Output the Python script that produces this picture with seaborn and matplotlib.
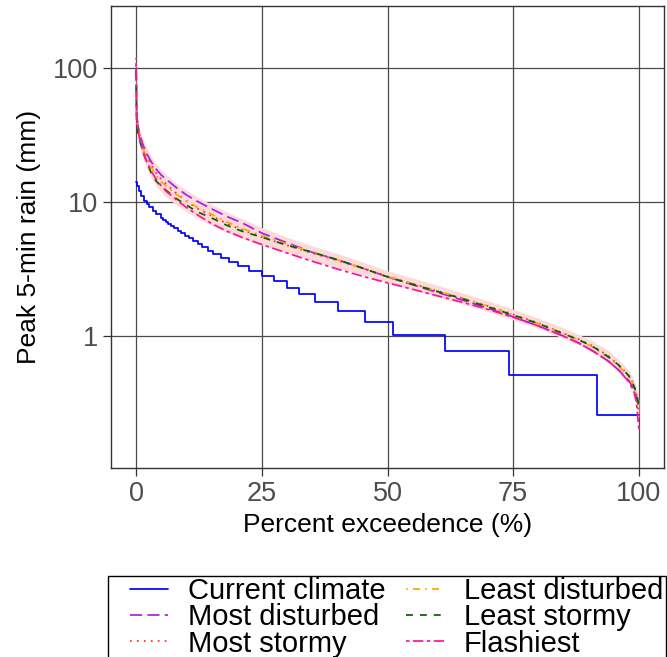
import numpy as np
import pandas as pd
import matplotlib
matplotlib.use("Agg")
import matplotlib.pyplot as plt
import seaborn as sns
from matplotlib.lines import Line2D
from matplotlib.patches import Rectangle

# ---------------- data ----------------
pct = [0, 0.1, 0.3, 0.6, 1, 1.5, 2, 3, 4, 5, 6, 8, 10, 12, 15, 18, 21, 25, 30, 35,
       40, 45, 50, 55, 60, 65, 70, 75, 80, 85, 88, 91, 94, 96, 98, 99, 99.5, 100]

most_disturbed = [100, 45, 38, 33.5, 29.5, 26, 23.5, 20, 17.6, 15.9, 14.8, 12.8, 11.3, 10.2,
                  8.9, 7.8, 7.0, 5.85, 4.95, 4.2, 3.7, 3.2, 2.75, 2.4, 2.1, 1.84, 1.6, 1.38,
                  1.18, 0.99, 0.88, 0.76, 0.64, 0.55, 0.46, 0.4, 0.35, 0.28]
least_disturbed = [105, 44, 36, 32, 28, 24.5, 22, 18.3, 15.8, 14.2, 13.2, 11.4, 10.2, 9.2,
                   8.1, 7.1, 6.35, 5.6, 4.85, 4.2, 3.7, 3.2, 2.77, 2.44, 2.15, 1.9, 1.66, 1.43,
                   1.23, 1.03, 0.93, 0.81, 0.68, 0.59, 0.49, 0.42, 0.36, 0.3]
most_stormy = [120, 50, 38, 33, 29, 25.5, 22.5, 19, 16.5, 14.8, 13.6, 11.6, 10.2, 9.0,
               7.9, 6.9, 6.2, 5.45, 4.75, 4.15, 3.65, 3.2, 2.77, 2.44, 2.15, 1.9, 1.66, 1.44,
               1.24, 1.04, 0.94, 0.83, 0.7, 0.6, 0.5, 0.43, 0.37, 0.25]
least_stormy = [95, 40, 34, 30, 26.5, 23, 20.5, 16.5, 14.3, 13.2, 12.2, 10.6, 9.5, 8.5,
                7.6, 6.7, 6.05, 5.45, 4.75, 4.2, 3.7, 3.2, 2.75, 2.42, 2.13, 1.88, 1.64, 1.42,
                1.23, 1.03, 0.93, 0.82, 0.69, 0.6, 0.5, 0.42, 0.37, 0.3]
flashiest = [110, 46, 36, 31, 27, 23, 20.5, 17, 14.8, 13.2, 12.0, 10.4, 9.1, 8.1,
             6.9, 6.05, 5.45, 4.8, 4.15, 3.6, 3.15, 2.78, 2.48, 2.22, 1.98, 1.77, 1.57, 1.37,
             1.18, 0.99, 0.88, 0.76, 0.64, 0.55, 0.45, 0.38, 0.32, 0.2]
ribbon_lo = [80, 36, 30, 27, 23.5, 20.5, 18.3, 15.2, 13.2, 11.9, 10.9, 9.5, 8.5, 7.6, 6.7, 5.9,
             5.35, 4.75, 4.15, 3.65, 3.22, 2.85, 2.48, 2.2, 1.94, 1.72, 1.51, 1.31, 1.13, 0.95,
             0.85, 0.74, 0.62, 0.53, 0.44, 0.37, 0.32, 0.24]
ribbon_hi = [130, 56, 43, 37, 33, 29, 26, 22, 19.3, 17.4, 16.0, 13.8, 12.3, 11.0, 9.6, 8.45,
             7.5, 6.45, 5.45, 4.7, 4.12, 3.56, 3.05, 2.7, 2.37, 2.08, 1.82, 1.57, 1.35, 1.14,
             1.02, 0.9, 0.77, 0.66, 0.55, 0.47, 0.41, 0.33]

cc_pct = [0, 0.25, 0.6, 1.0, 1.6, 2.1, 2.6, 3.3, 4.0, 4.9, 5.4, 5.9, 6.4, 7.0, 7.6, 8.3,
          9.0, 9.8, 10.6, 11.4, 12.3, 13.2, 14.2, 15.3, 16.8, 18.5, 20.3, 22.5, 25.1, 27.4,
          30.0, 32.3, 35.6, 40.1, 45.6, 51.0, 61.5, 74.2, 91.7, 100]
cc_val = [14.224, 13.208, 12.192, 11.176, 10.16, 9.652, 9.144, 8.636, 8.128, 7.62, 7.366,
          7.112, 6.858, 6.604, 6.35, 6.096, 5.842, 5.588, 5.334, 5.08, 4.826, 4.572, 4.318,
          4.064, 3.81, 3.556, 3.302, 3.048, 2.794, 2.54, 2.286, 2.032, 1.778, 1.524, 1.27,
          1.016, 0.762, 0.508, 0.254, 0.254]

x_ticks = [0, 25, 50, 75, 100]
y_ticks = [1, 10, 100]
y_tick_labels = ["1", "10", "100"]

# ---------------- style ----------------
sns.set_theme(style="white")
plt.rcParams['font.family'] = ['Liberation Sans', 'DejaVu Sans']

W, H = 667, 657
fig = plt.figure(figsize=(W / 100, H / 100), dpi=100)
ax = fig.add_axes([111/W, 1 - 468/H, 553/W, 462/H])

ax.fill_between(pct, ribbon_lo, ribbon_hi, color='#FCDADA', lw=0, zorder=1)

lw = 1.25
series = [
    ("Most disturbed", most_disturbed, '#A020F0', (7, 3)),
    ("Most stormy", most_stormy, '#FF2A2A', (1, 3)),
    ("Least disturbed", least_disturbed, '#FFA500', (1, 3, 4, 3)),
    ("Least stormy", least_stormy, '#006400', (4, 4)),
    ("Flashiest", flashiest, '#FF1493', (2, 2, 6, 2)),
]

handles = {}
cc_df = pd.DataFrame({"pct": cc_pct, "val": cc_val})
sns.lineplot(data=cc_df, x="pct", y="val", ax=ax, color='#0000FF', lw=lw,
             drawstyle='steps-post', estimator=None, sort=False, zorder=3)
handles["Current climate"] = Line2D([], [], color='#0000FF', lw=lw)

for name, vals, col, dash in series:
    df = pd.DataFrame({"pct": pct, "val": vals})
    sns.lineplot(data=df, x="pct", y="val", ax=ax, color=col, lw=lw,
                 estimator=None, sort=False, zorder=4, dashes=False,
                 linestyle=(0, dash))
    handles[name] = Line2D([], [], color=col, lw=lw, linestyle=(0, dash))

ax.set_yscale('log')
ax.set_xlim(-5, 105)
ax.set_ylim(0.1018, 293.8)
ax.set_xticks(x_ticks)
ax.set_xticklabels([str(t) for t in x_ticks])
ax.set_yticks(y_ticks)
ax.set_yticklabels(y_tick_labels)
ax.yaxis.set_minor_locator(matplotlib.ticker.NullLocator())

ax.grid(True, which='major', color='#4a4a4a', lw=0.9)
ax.set_axisbelow(True)
for s in ax.spines.values():
    s.set_color('#333333')
    s.set_linewidth(1.0)

ax.tick_params(axis='both', which='major', length=5.5, width=0.9, color='#333333',
               labelsize=19.5, labelcolor='#4D4D4D', pad=4, direction='out',
               bottom=True, left=True)
ax.set_xlabel("Percent exceedence (%)", fontsize=19, color='black', labelpad=4)
ax.set_ylabel("Peak 5-min rain (mm)", fontsize=19, color='black', labelpad=8)

# legend frame (extends past the bottom edge, as in the reference)
fig.patches.append(Rectangle((108/W, -0.1), (665.5 - 108)/W, (1 - 576/H) + 0.1,
                             transform=fig.transFigure, fill=False,
                             edgecolor='black', lw=1.0, zorder=5))

order = ["Current climate", "Most disturbed", "Most stormy",
         "Least disturbed", "Least stormy", "Flashiest"]
leg = fig.legend([handles[k] for k in order], order, ncol=2,
                 loc='upper left', bbox_to_anchor=(130/W, 1 - 577/H),
                 borderaxespad=0, fontsize=21, frameon=False,
                 handlelength=1.3, handletextpad=0.68,
                 columnspacing=0.7, labelspacing=-0.06, borderpad=0)
for t in leg.get_texts():
    t.set_color('black')

fig.savefig("out.png", dpi=100)
